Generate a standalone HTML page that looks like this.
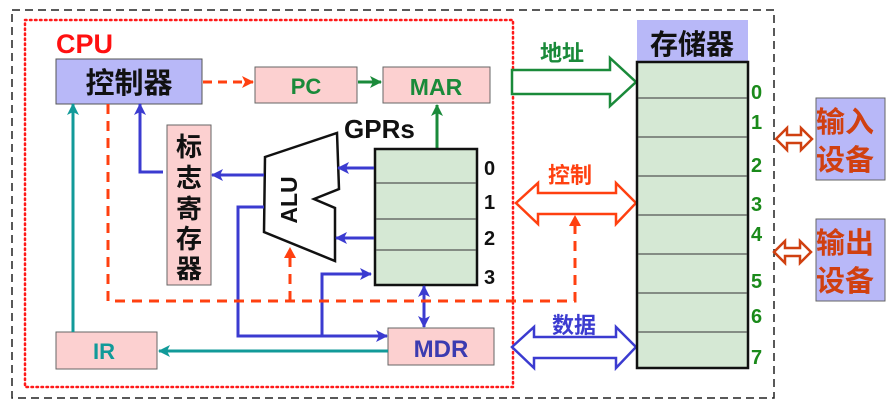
<!DOCTYPE html>
<html><head><meta charset="utf-8"><style>
html,body{margin:0;padding:0;background:#fff;}
svg{display:block;}
text{font-family:"Liberation Sans","Noto Sans CJK SC",sans-serif;font-weight:bold;}
</style></head><body>
<svg width="890" height="407" viewBox="0 0 890 407" xmlns="http://www.w3.org/2000/svg">
<defs>
<marker id="ab" markerWidth="12" markerHeight="12" refX="11" refY="6" orient="auto" markerUnits="userSpaceOnUse"><path d="M0,0 L12,6 L0,12 L3,6 z" fill="#3b3bd0"/></marker>
<marker id="ar" markerWidth="12" markerHeight="12" refX="11" refY="6" orient="auto" markerUnits="userSpaceOnUse"><path d="M0,0 L12,6 L0,12 L3,6 z" fill="#ff4010"/></marker>
<marker id="ag" markerWidth="12" markerHeight="12" refX="11" refY="6" orient="auto" markerUnits="userSpaceOnUse"><path d="M0,0 L12,6 L0,12 L3,6 z" fill="#1a8a3a"/></marker>
<marker id="at" markerWidth="12" markerHeight="12" refX="11" refY="6" orient="auto" markerUnits="userSpaceOnUse"><path d="M0,0 L12,6 L0,12 L3,6 z" fill="#119a99"/></marker>
</defs>
<rect x="12" y="10" width="762" height="388" fill="none" stroke="#222" stroke-width="1.5" stroke-dasharray="8,5"/>
<rect x="25" y="20" width="488" height="367" fill="none" stroke="#ff1a1a" stroke-width="2.5" stroke-dasharray="1.5,3.5" stroke-linecap="round"/>
<text x="56" y="53" font-size="27" fill="#ff1010">CPU</text>
<rect x="56" y="59" width="146" height="45" fill="#b8b8f8" stroke="#555" stroke-width="1"/>
<text x="129" y="93" font-size="29" text-anchor="middle" fill="#111">控制器</text>
<rect x="255" y="67" width="102" height="36" fill="#fcd0d0" stroke="#666"/>
<text x="306" y="94" font-size="22" text-anchor="middle" fill="#1a8a3a">PC</text>
<rect x="383" y="67" width="107" height="36" fill="#fcd0d0" stroke="#666"/>
<text x="436" y="95" font-size="23" text-anchor="middle" fill="#1a8a3a">MAR</text>
<line x1="203" y1="82" x2="253" y2="82" stroke="#ff4010" stroke-width="3" stroke-dasharray="9,6" marker-end="url(#ar)"/>
<line x1="358" y1="82" x2="381" y2="82" stroke="#1a8a3a" stroke-width="3" marker-end="url(#ag)"/>
<text x="344" y="138" font-size="26" fill="#111">GPRs</text>
<line x1="437" y1="148" x2="437" y2="105" stroke="#1a8a3a" stroke-width="3" marker-end="url(#ag)"/>
<rect x="375" y="149" width="102" height="136" fill="#d5e8d4" stroke="#111" stroke-width="2.5"/>
<g stroke="#555" stroke-width="1.3"><line x1="376" y1="183" x2="476" y2="183"/><line x1="376" y1="219" x2="476" y2="219"/><line x1="376" y1="250" x2="476" y2="250"/></g>
<g font-size="20" fill="#111"><text x="484" y="175">0</text><text x="484" y="209">1</text><text x="484" y="245">2</text><text x="484" y="284">3</text></g>
<rect x="167" y="125" width="44" height="160" fill="#fcd0d0" stroke="#666"/>
<g font-size="26" fill="#111" text-anchor="middle"><text x="189" y="156">标</text><text x="189" y="187">志</text><text x="189" y="218">寄</text><text x="189" y="248">存</text><text x="189" y="278">器</text></g>
<polygon points="265,157 337,133 339,189 314,199 335,208 335,261 264,232" fill="#fff" stroke="#111" stroke-width="2.5"/>
<text transform="translate(297,200) rotate(-90)" font-size="23" text-anchor="middle" fill="#111">ALU</text>
<g stroke="#3b3bd0" stroke-width="3" fill="none">
<line x1="374" y1="168" x2="338" y2="168" marker-end="url(#ab)"/>
<line x1="374" y1="238" x2="336" y2="238" marker-end="url(#ab)"/>
<line x1="264" y1="175" x2="212" y2="175" marker-end="url(#ab)"/>
<polyline points="163,172 140,172 140,104" marker-end="url(#ab)"/>
<polyline points="264,207 238,207 238,336 387,336" marker-end="url(#ab)"/>
<polyline points="322,336 322,274 371,274" marker-end="url(#ab)"/>
<line x1="424" y1="300" x2="424" y2="286" marker-end="url(#ab)"/>
<line x1="424" y1="296" x2="424" y2="327" marker-end="url(#ab)"/>
</g>
<rect x="388" y="328" width="106" height="37" fill="#fcd0d0" stroke="#666"/>
<text x="441" y="357" font-size="24" text-anchor="middle" fill="#3b3bb0">MDR</text>
<rect x="56" y="332" width="101" height="37" fill="#fcd0d0" stroke="#666"/>
<text x="104" y="359" font-size="22" text-anchor="middle" fill="#119a99">IR</text>
<line x1="388" y1="351" x2="159" y2="351" stroke="#119a99" stroke-width="3" marker-end="url(#at)"/>
<line x1="73" y1="332" x2="73" y2="104" stroke="#119a99" stroke-width="3" marker-end="url(#at)"/>
<g stroke="#ff4010" stroke-width="3" fill="none" stroke-dasharray="10,7">
<polyline points="108,104 108,301 575,301 575,220"/>
<line x1="290" y1="301" x2="290" y2="254"/>
</g>
<path d="M575,215 l-6,11 h12 z" fill="#ff4010"/>
<path d="M290,247 l-6,11 h12 z" fill="#ff4010"/>
<text x="540" y="61" font-size="22" fill="#1a8a3a">地址</text>
<polygon points="512,70 610,70 610,58 636,82 610,106 610,94 512,94" fill="#fff" stroke="#1a8a3a" stroke-width="2.5"/>
<text x="548" y="183" font-size="22" fill="#ff4010">控制</text>
<polygon points="516,203 538,183 538,193 616,193 616,183 636,203 616,224 616,214 538,214 538,224" fill="#fff" stroke="#ff4010" stroke-width="2.5"/>
<text x="552" y="333" font-size="22" fill="#3b3bd0">数据</text>
<polygon points="512,347 534,327 534,337 616,337 616,327 636,347 616,368 616,358 534,358 534,368" fill="#fff" stroke="#3b3bd0" stroke-width="2.5"/>
<rect x="637" y="20" width="111" height="42" fill="#b8b8f8"/>
<text x="692" y="54" font-size="28" text-anchor="middle" fill="#111">存储器</text>
<rect x="637" y="62" width="111" height="306" fill="#d5e8d4" stroke="#111" stroke-width="2.5"/>
<g stroke="#555" stroke-width="1.3">
<line x1="638" y1="98" x2="747" y2="98"/><line x1="638" y1="137" x2="747" y2="137"/><line x1="638" y1="176" x2="747" y2="176"/><line x1="638" y1="215" x2="747" y2="215"/><line x1="638" y1="254" x2="747" y2="254"/><line x1="638" y1="293" x2="747" y2="293"/><line x1="638" y1="332" x2="747" y2="332"/>
</g>
<g font-size="20" fill="#1a8a1a"><text x="751" y="99">0</text><text x="751" y="129">1</text><text x="751" y="172">2</text><text x="751" y="211">3</text><text x="751" y="241">4</text><text x="751" y="288">5</text><text x="751" y="323">6</text><text x="751" y="364">7</text></g>
<rect x="816" y="98" width="69" height="82" fill="#b8b8f8" stroke="#666"/>
<text x="845" y="132" font-size="29" text-anchor="middle" fill="#d04010">输入</text>
<text x="845" y="170" font-size="29" text-anchor="middle" fill="#d04010">设备</text>
<rect x="816" y="219" width="69" height="82" fill="#b8b8f8" stroke="#666"/>
<text x="845" y="253" font-size="29" text-anchor="middle" fill="#d04010">输出</text>
<text x="845" y="291" font-size="29" text-anchor="middle" fill="#d04010">设备</text>
<polygon points="776,139 787,128 787,135 801,135 801,128 812,139 801,150 801,143 787,143 787,150" fill="#fff" stroke="#d04010" stroke-width="2.5"/>
<polygon points="774,252 785,241 785,248 800,248 800,241 811,252 800,263 800,256 785,256 785,263" fill="#fff" stroke="#d04010" stroke-width="2.5"/>
</svg>
</body></html>
